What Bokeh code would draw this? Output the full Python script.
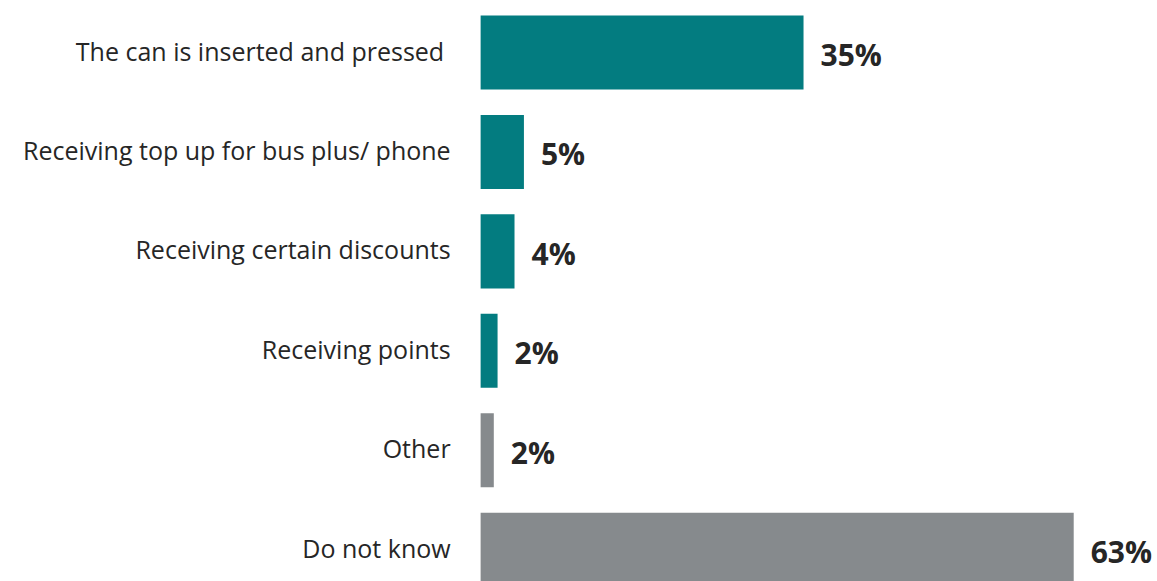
from bokeh.plotting import figure
from bokeh.models import ColumnDataSource, Range1d
from bokeh.core.properties import value
from bokeh.embed import file_html
from bokeh.resources import INLINE

categories = ["The can is inserted and pressed ", "Receiving top up for bus plus/ phone",
              "Receiving certain discounts", "Receiving points", "Other", "Do not know"]
values = [34.3, 4.6, 3.6, 1.8, 1.4, 63.0]
labels = ["35%", "5%", "4%", "2%", "2%", "63%"]
colors = ["#037C80", "#037C80", "#037C80", "#037C80", "#868A8D", "#868A8D"]

pos = list(range(len(categories)))
src = ColumnDataSource(dict(y=pos, v=values, cat=categories, lab=labels, c=colors,
                            zero=[0] * len(pos)))

W, H = 1157, 581
p = figure(width=W, height=H, output_backend="svg", toolbar_location=None,
           x_range=Range1d(-51.0, 71.9), y_range=Range1d(5.32, -0.523),
           min_border=0, outline_line_color=None)
p.xaxis.visible = False
p.yaxis.visible = False
p.xgrid.visible = False
p.ygrid.visible = False

p.hbar(y="y", left=0, right="v", height=0.745, fill_color="c", line_color=None, source=src)

p.text(x="zero", y="y", text="cat", source=src, x_offset=-30, y_offset=-2,
       text_align="right", text_baseline="middle", text_font=value("Open Sans"),
       text_font_size="25px", text_color="#262626")
p.text(x="v", y="y", text="lab", source=src, x_offset=17, y_offset=2,
       text_align="left", text_baseline="middle", text_font=value("Open Sans"),
       text_font_size="30px", text_font_style="bold", text_color="#262626")

open("out.html", "w").write(file_html(p, INLINE))
